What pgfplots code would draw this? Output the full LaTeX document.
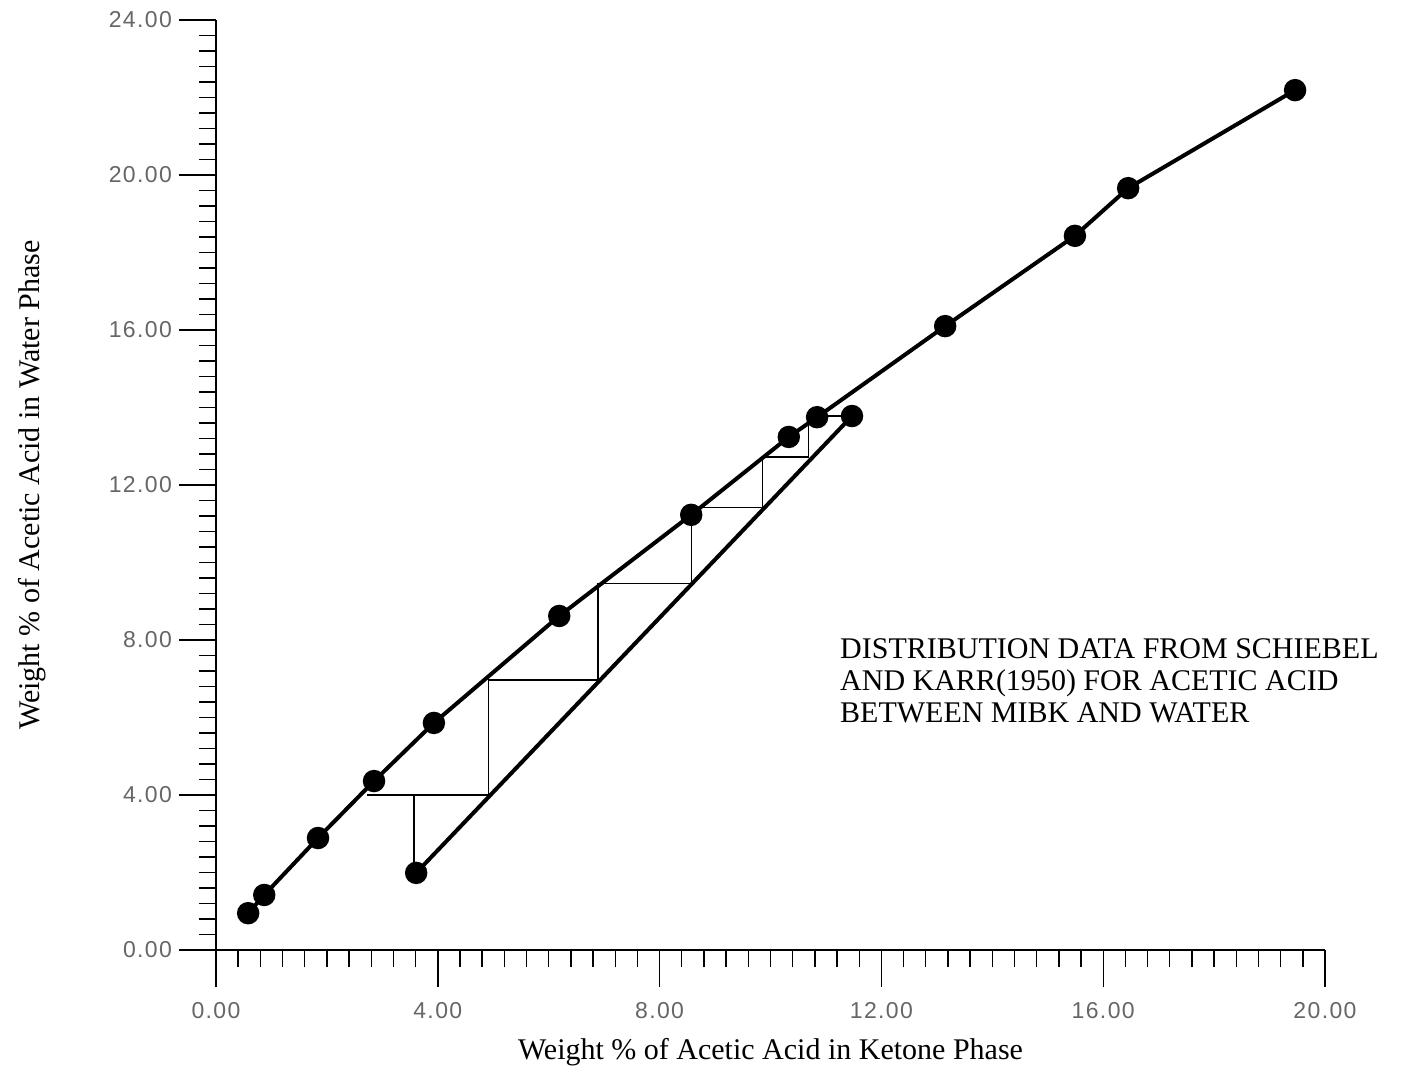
\documentclass[border=0pt]{standalone}
\usepackage{fontspec}
\setmainfont{Liberation Serif}
\newfontfamily\tickfont[LetterSpace=6]{Liberation Sans}
\usepackage{pgfplots}
\pgfplotsset{compat=1.18}
\pgfplotstableread{
x y
0.58 0.95
0.87 1.42
1.84 2.89
2.85 4.36
3.93 5.86
6.19 8.62
8.57 11.23
10.33 13.24
10.84 13.75
13.15 16.10
15.49 18.43
16.45 19.66
19.46 22.19
}\equil
\pgfplotstableread{
x y
3.61 1.99
11.47 13.78
}\operline
\pgfplotstableread{
x y
2.72 4.00
4.91 4.00
4.91 6.97
6.89 6.97
6.89 9.45
8.57 9.45
8.57 11.41
9.86 11.41
9.86 12.72
10.69 12.72
10.69 13.78
11.47 13.78
}\stairs
\pgfplotstableread{
x y
3.57 1.99
3.57 4.00
}\firststep
\begin{document}
\begin{tikzpicture}
\begin{axis}[
  scale only axis, width=554.5pt, height=465pt,
  xmin=0, xmax=20, ymin=0, ymax=24,
  axis x line*=bottom, axis y line*=left,
  x axis line style={-, line width=1pt},
  y axis line style={-, line width=1pt},
  xtick={0,4,...,20}, ytick={0,4,...,24},
  xticklabels={0.00,4.00,8.00,12.00,16.00,20.00},
  yticklabels={0.00,4.00,8.00,12.00,16.00,20.00,24.00},
  minor x tick num=9, minor y tick num=9,
  tick align=outside,
  major tick length=18.5pt, minor tick length=8.5pt,
  every tick/.style={black, line width=0.7pt},
  tick label style={font=\tickfont\fontsize{11.5}{12}\selectfont, text=black!60},
  xticklabel style={yshift=-4pt},
  xlabel={Weight \% of Acetic Acid in Ketone Phase},
  ylabel={Weight \% of Acetic Acid in Water Phase},
  every axis x label/.style={at={(axis description cs:0.5,0)}, anchor=center, yshift=-51pt, font=\fontsize{15}{18}\selectfont},
  every axis y label/.style={at={(axis description cs:0,0.5)}, rotate=90, anchor=center, yshift=92pt, font=\fontsize{15}{18}\selectfont},
  clip=false,
]
\coordinate (O) at (axis cs:0,0);
\addplot[black, line width=0.6pt] table {\stairs};
\addplot[black, line width=0.6pt] table {\firststep};
\addplot[black, line width=2pt, mark=*, mark size=4.6pt, mark options={fill=black}] table {\equil};
\addplot[black, line width=2pt, mark=*, mark size=4.6pt, mark options={fill=black}] table {\operline};
\node[anchor=north west, inner sep=0pt, align=left, font=\fontsize{15}{16}\selectfont]
  at (axis cs:11.25,8.05) {DISTRIBUTION DATA FROM SCHIEBEL\\AND KARR(1950) FOR ACETIC ACID\\BETWEEN MIBK AND WATER};
\end{axis}
\pgfresetboundingbox
\path[use as bounding box] ([shift={(-108pt,-60.5pt)}]O) rectangle ([shift={(592.5pt,475pt)}]O);
\end{tikzpicture}
\end{document}
